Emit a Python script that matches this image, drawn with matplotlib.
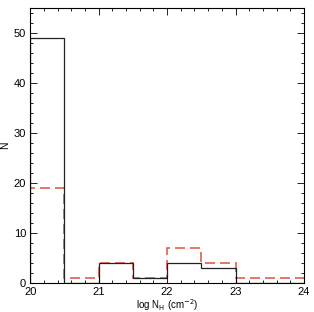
import matplotlib
matplotlib.use("Agg")
import matplotlib.pyplot as plt
import numpy as np
from matplotlib.ticker import MultipleLocator

# bin edges in log N_H
edges = [20.0, 20.5, 21.0, 21.5, 22.0, 22.5, 23.0, 23.5, 24.0]
counts_black = [49, 0, 4, 1, 4, 3, 0, 0]
counts_red = [19, 1, 4, 1, 7, 4, 1, 1]

plt.rcParams["font.family"] = ["Liberation Sans", "DejaVu Sans"]

fig = plt.figure(figsize=(3.14, 3.12), dpi=100)
ax = fig.add_axes([0.096, 0.092, 0.872, 0.882])

ax.stairs(counts_red, edges, color="#e2604a", linewidth=1.2, linestyle=(0, (6, 3)))
ax.stairs(counts_black, edges, color="#222222", linewidth=0.9)

ax.set_xlim(20, 24)
ax.set_ylim(0, 55)
ax.xaxis.set_major_locator(MultipleLocator(1))
ax.xaxis.set_minor_locator(MultipleLocator(0.2))
ax.yaxis.set_major_locator(MultipleLocator(10))
ax.yaxis.set_minor_locator(MultipleLocator(2))
ax.tick_params(which="both", direction="in", top=True, right=True, labelsize=8, width=0.6)
ax.tick_params(which="major", length=5)
ax.tick_params(axis="x", which="major", pad=3)
ax.tick_params(axis="y", which="major", pad=3)
ax.tick_params(which="minor", length=2.5)
for s in ax.spines.values():
    s.set_linewidth(0.8)

ax.set_xlabel(r"log N$_{\rm H}$ (cm$^{-2}$)", fontsize=7)
ax.xaxis.set_label_coords(0.5, -0.05)
ax.set_ylabel("N", fontsize=7.5)
ax.yaxis.set_label_coords(-0.072, 0.5)

fig.savefig("out.png", dpi=100)
